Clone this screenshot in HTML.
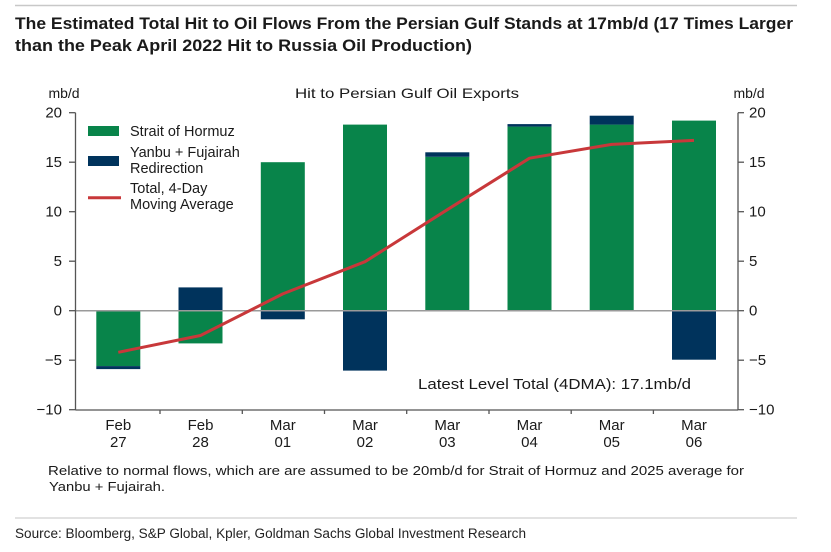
<!DOCTYPE html>
<html><head><meta charset="utf-8"><style>
html,body{margin:0;padding:0;background:#fff;}
svg{display:block;}
</style></head><body>
<svg width="831" height="552" viewBox="0 0 831 552" xmlns="http://www.w3.org/2000/svg">
<rect width="831" height="552" fill="#fff"/>
<line x1="15" y1="5.5" x2="797" y2="5.5" stroke="#c8c8c8" stroke-width="1.5"/>
<g font-family="'Liberation Sans', sans-serif" font-weight="bold" font-size="17" fill="#1a1a1a">
<text x="15" y="29" textLength="778" lengthAdjust="spacingAndGlyphs">The Estimated Total Hit to Oil Flows From the Persian Gulf Stands at 17mb/d (17 Times Larger</text>
<text x="15" y="51" textLength="457" lengthAdjust="spacingAndGlyphs">than the Peak April 2022 Hit to Russia Oil Production)</text>
</g>

<g font-family="'Liberation Sans', sans-serif" font-size="14" fill="#1a1a1a">
<text x="64" y="98" text-anchor="middle">mb/d</text>
<text x="749" y="98" text-anchor="middle">mb/d</text>
<text x="295" y="98" textLength="224" lengthAdjust="spacingAndGlyphs">Hit to Persian Gulf Oil Exports</text>
</g>

<!-- bars -->
<g>
<rect x="96.3" y="310.7" width="44" height="55.4" fill="#08844a"/>
<rect x="96.3" y="366.1" width="44" height="3" fill="#00335c"/>
<rect x="178.5" y="310.7" width="44" height="32.7" fill="#08844a"/>
<rect x="178.5" y="287.4" width="44" height="23.3" fill="#00335c"/>
<rect x="260.8" y="162.2" width="44" height="148.5" fill="#08844a"/>
<rect x="260.8" y="310.7" width="44" height="8.6" fill="#00335c"/>
<rect x="343" y="124.6" width="44" height="186.1" fill="#08844a"/>
<rect x="343" y="310.7" width="44" height="59.9" fill="#00335c"/>
<rect x="425.3" y="156.8" width="44" height="153.9" fill="#08844a"/>
<rect x="425.3" y="152.3" width="44" height="4.5" fill="#00335c"/>
<rect x="507.5" y="126.6" width="44" height="184.1" fill="#08844a"/>
<rect x="507.5" y="124.1" width="44" height="2.5" fill="#00335c"/>
<rect x="589.7" y="124.6" width="44" height="186.1" fill="#08844a"/>
<rect x="589.7" y="115.7" width="44" height="8.9" fill="#00335c"/>
<rect x="672" y="120.6" width="44" height="190.1" fill="#08844a"/>
<rect x="672" y="310.7" width="44" height="49" fill="#00335c"/>
</g>

<line x1="75.5" y1="310.7" x2="738" y2="310.7" stroke="#9a9a9a" stroke-width="1.5"/>

<polyline points="118.3,352.3 200.5,335.5 282.8,293.9 365,261.7 447.3,209.7 529.5,158.2 611.7,144.4 694,140.4" fill="none" stroke="#c8383a" stroke-width="3" stroke-linejoin="round"/>

<g stroke="#555" stroke-width="1.3" fill="none">
<line x1="75.5" y1="112.7" x2="75.5" y2="410"/>
<line x1="738" y1="112.7" x2="738" y2="410"/>
<line x1="75.5" y1="410" x2="738" y2="410"/>
<line x1="69" y1="112.7" x2="75.5" y2="112.7"/>
<line x1="69" y1="162.2" x2="75.5" y2="162.2"/>
<line x1="69" y1="211.7" x2="75.5" y2="211.7"/>
<line x1="69" y1="261.2" x2="75.5" y2="261.2"/>
<line x1="69" y1="310.7" x2="75.5" y2="310.7"/>
<line x1="69" y1="360.2" x2="75.5" y2="360.2"/>
<line x1="69" y1="409.7" x2="75.5" y2="409.7"/>
<line x1="738" y1="112.7" x2="744" y2="112.7"/>
<line x1="738" y1="162.2" x2="744" y2="162.2"/>
<line x1="738" y1="211.7" x2="744" y2="211.7"/>
<line x1="738" y1="261.2" x2="744" y2="261.2"/>
<line x1="738" y1="310.7" x2="744" y2="310.7"/>
<line x1="738" y1="360.2" x2="744" y2="360.2"/>
<line x1="738" y1="409.7" x2="744" y2="409.7"/>
<line x1="160" y1="410" x2="160" y2="414"/>
<line x1="242.3" y1="410" x2="242.3" y2="414"/>
<line x1="324.5" y1="410" x2="324.5" y2="414"/>
<line x1="406.7" y1="410" x2="406.7" y2="414"/>
<line x1="489" y1="410" x2="489" y2="414"/>
<line x1="571.2" y1="410" x2="571.2" y2="414"/>
<line x1="653.4" y1="410" x2="653.4" y2="414"/>
</g>

<g font-family="'Liberation Sans', sans-serif" font-size="15" fill="#1a1a1a">
<g text-anchor="end">
<text x="62" y="117.7">20</text>
<text x="62" y="167.2">15</text>
<text x="62" y="216.7">10</text>
<text x="62" y="266.2">5</text>
<text x="62" y="315.7">0</text>
<text x="62" y="365.2">−5</text>
<text x="62" y="414.7">−10</text>
</g>
<text x="749" y="117.7">20</text>
<text x="749" y="167.2">15</text>
<text x="749" y="216.7">10</text>
<text x="749" y="266.2">5</text>
<text x="749" y="315.7">0</text>
<text x="749" y="365.2">−5</text>
<text x="749" y="414.7">−10</text>
<g text-anchor="middle">
<text x="118.3" y="430">Feb</text><text x="118.3" y="447">27</text>
<text x="200.5" y="430">Feb</text><text x="200.5" y="447">28</text>
<text x="282.8" y="430">Mar</text><text x="282.8" y="447">01</text>
<text x="365" y="430">Mar</text><text x="365" y="447">02</text>
<text x="447.3" y="430">Mar</text><text x="447.3" y="447">03</text>
<text x="529.5" y="430">Mar</text><text x="529.5" y="447">04</text>
<text x="611.7" y="430">Mar</text><text x="611.7" y="447">05</text>
<text x="694" y="430">Mar</text><text x="694" y="447">06</text>
</g>
<text x="418" y="389" textLength="273" lengthAdjust="spacingAndGlyphs">Latest Level Total (4DMA): 17.1mb/d</text>
</g>

<rect x="88" y="126" width="31" height="10" fill="#08844a"/>
<rect x="88" y="156" width="31" height="10" fill="#00335c"/>
<line x1="88" y1="197.7" x2="121" y2="197.7" stroke="#c8383a" stroke-width="3"/>
<g font-family="'Liberation Sans', sans-serif" font-size="14.5" fill="#1a1a1a">
<text x="130" y="136">Strait of Hormuz</text>
<text x="130" y="157">Yanbu + Fujairah</text>
<text x="130" y="173">Redirection</text>
<text x="130" y="193">Total, 4-Day</text>
<text x="130" y="209">Moving Average</text>
</g>

<g font-family="'Liberation Sans', sans-serif" font-size="13" fill="#1a1a1a">
<text x="48" y="475" textLength="696" lengthAdjust="spacingAndGlyphs">Relative to normal flows, which are are assumed to be 20mb/d for Strait of Hormuz and 2025 average for</text>
<text x="49" y="491" textLength="116" lengthAdjust="spacingAndGlyphs">Yanbu + Fujairah.</text>
</g>

<line x1="15" y1="518" x2="797" y2="518" stroke="#d0d0d0" stroke-width="1.2"/>
<text x="15" y="538" font-family="'Liberation Sans', sans-serif" font-size="13.5" fill="#222" textLength="511" lengthAdjust="spacingAndGlyphs">Source: Bloomberg, S&amp;P Global, Kpler, Goldman Sachs Global Investment Research</text>
</svg>
</body></html>
